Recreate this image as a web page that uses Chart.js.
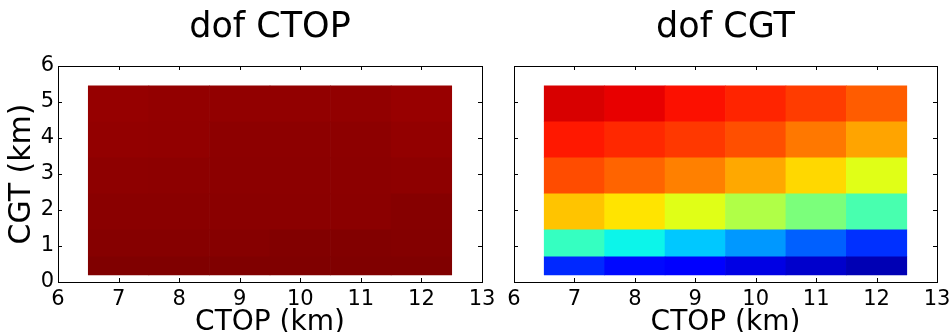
<!DOCTYPE html>
<html>
<head>
<meta charset="utf-8">
<script src="https://cdn.jsdelivr.net/npm/chart.js@4/dist/chart.umd.min.js"></script>
<style>
    body { margin: 0; background: #fff; }
    #wrap { position: relative; width: 951px; height: 332px; overflow: hidden; }
    #wrap canvas { position: absolute; top: 0; }
</style>
</head>
<body>
<div id="wrap">
    <canvas id="ctopChart" width="510" height="332" style="left:0px"></canvas>
    <canvas id="cgtChart" width="471" height="332" style="left:480px"></canvas>
</div>
<script>
// cell centres along CTOP (km)
const ctopCenters = [7, 8, 9, 10, 11, 12];
// row edges along CGT (km), bottom to top
const cgtEdges = [0.2, 0.7, 1.45, 2.45, 3.45, 4.45, 5.45];
const xTicks = [6, 7, 8, 9, 10, 11, 12, 13];
const yTicks = [0, 1, 2, 3, 4, 5, 6];

// normalised dof values, one array per CGT row (bottom row first)
const dofCtop = [
    [1.000, 1.000, 1.000, 1.000, 1.000, 1.000],
    [0.9945, 0.9945, 0.9945, 0.998, 0.998, 0.996],
    [0.991, 0.991, 0.991, 0.990, 0.990, 0.9945],
    [0.9877, 0.988, 0.989, 0.989, 0.989, 0.9877],
    [0.983, 0.984, 0.988, 0.988, 0.988, 0.983],
    [0.9806, 0.983, 0.984, 0.984, 0.984, 0.979]
];
const dofCgt = [
    [0.164, 0.133, 0.118, 0.087, 0.066, 0.045],
    [0.415, 0.365, 0.321, 0.274, 0.219, 0.172],
    [0.702, 0.669, 0.622, 0.564, 0.500, 0.437],
    [0.830, 0.804, 0.775, 0.732, 0.681, 0.622],
    [0.885, 0.868, 0.851, 0.826, 0.783, 0.736],
    [0.924, 0.910, 0.893, 0.872, 0.846, 0.813]
];

// matplotlib "jet" colormap
const jetSegments = {
    r: [[0, 0], [0.35, 0], [0.66, 1], [0.89, 1], [1, 0.5]],
    g: [[0, 0], [0.125, 0], [0.375, 1], [0.64, 1], [0.91, 0], [1, 0]],
    b: [[0, 0.5], [0.11, 1], [0.34, 1], [0.65, 0], [1, 0]]
};
const interp = (seg, v) => {
    for (let i = 1; i < seg.length; i++) {
        if (v <= seg[i][0]) {
            const [x0, y0] = seg[i - 1];
            const [x1, y1] = seg[i];
            return y0 + (y1 - y0) * (v - x0) / (x1 - x0);
        }
    }
    return seg[seg.length - 1][1];
};
const jet = (v) => {
    const c = ['r', 'g', 'b'].map(k => Math.round(255 * interp(jetSegments[k], v)));
    return `rgb(${c[0]},${c[1]},${c[2]})`;
};

const FONT = 'DejaVu Sans';
Chart.defaults.color = '#000';
Chart.defaults.font.family = FONT;

// matplotlib style frame with inward ticks on all four sides
const frameTicks = {
    id: 'frameTicks',
    afterDraw(chart) {
        const { ctx, chartArea: a, scales: { x, y } } = chart;
        const len = 4;
        ctx.save();
        ctx.strokeStyle = '#000';
        ctx.lineWidth = 1;
        ctx.strokeRect(Math.round(a.left) + 0.5, Math.round(a.top) + 0.5,
            Math.round(a.right - a.left), Math.round(a.bottom - a.top));
        ctx.beginPath();
        xTicks.forEach(v => {
            const px = Math.round(x.getPixelForValue(v)) + 0.5;
            ctx.moveTo(px, a.bottom); ctx.lineTo(px, a.bottom - len);
            ctx.moveTo(px, a.top); ctx.lineTo(px, a.top + len);
        });
        yTicks.forEach(v => {
            const py = Math.round(y.getPixelForValue(v)) + 0.5;
            ctx.moveTo(a.left, py); ctx.lineTo(a.left + len, py);
            ctx.moveTo(a.right, py); ctx.lineTo(a.right - len, py);
        });
        ctx.stroke();
        ctx.restore();
    }
};

const makeDatasets = (rows) => rows.map((row, r) => ({
    data: ctopCenters.map(x => ({ x, y: [cgtEdges[r], cgtEdges[r + 1]] })),
    backgroundColor: row.map(jet),
    borderWidth: 0,
    grouped: false,
    barPercentage: 1,
    categoryPercentage: 1
}));

const makeChart = (canvasId, title, rows, showY, axisWidth, padRight) => new Chart(
    document.getElementById(canvasId), {
    type: 'bar',
    data: { datasets: makeDatasets(rows) },
    options: {
        responsive: false,
        animation: false,
        layout: { padding: { left: 0, right: padRight, top: 0, bottom: 0 } },
        plugins: {
            legend: { display: false },
            tooltip: { enabled: false },
            title: {
                display: true,
                fullSize: false, // centre over the plot area
                text: title,
                color: '#000',
                font: { family: FONT, size: 35, weight: 'normal', lineHeight: 1.2 },
                padding: { top: 7, bottom: 17 }
            }
        },
        scales: {
            x: {
                type: 'linear',
                min: 6, max: 13,
                offset: false,
                grid: { display: false, drawTicks: false, offset: false },
                border: { display: false },
                ticks: {
                    stepSize: 1, padding: 5, maxRotation: 0, autoSkip: false,
                    font: { family: FONT, size: 21 }
                },
                title: {
                    display: true, text: 'CTOP (km)',
                    font: { family: FONT, size: 28, lineHeight: 0.68 },
                    padding: 0
                },
                afterFit: (s) => { s.height = 50; s.paddingLeft = 0; s.paddingRight = 0; }
            },
            y: {
                type: 'linear',
                min: 0, max: 6,
                grid: { display: false, drawTicks: false },
                border: { display: false },
                ticks: {
                    display: showY, stepSize: 1, padding: 4,
                    font: { family: FONT, size: 21 }
                },
                title: {
                    display: showY, text: 'CGT (km)',
                    font: { family: FONT, size: 30, lineHeight: 1.2 },
                    padding: { top: 4, bottom: 0 }
                },
                afterFit: (s) => { s.width = axisWidth; s.paddingTop = 0; s.paddingBottom = 0; }
            }
        }
    },
    plugins: [frameTicks]
});

makeChart('ctopChart', 'dof CTOP', dofCtop, true, 58, 28);
makeChart('cgtChart', 'dof CGT', dofCgt, false, 34, 14);
</script>
</body>
</html>
